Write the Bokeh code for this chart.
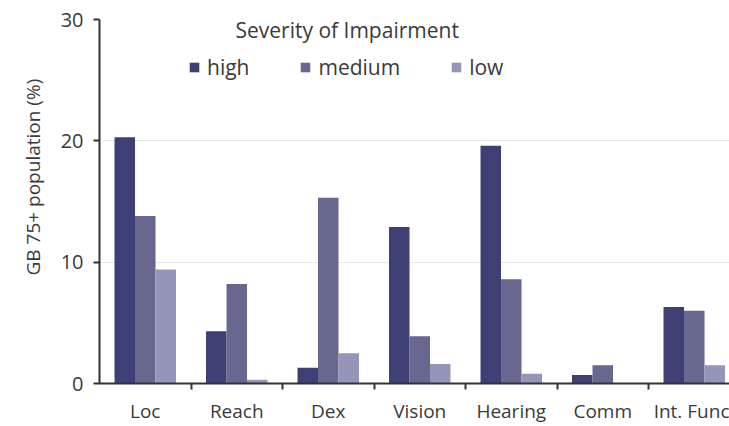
from bokeh.plotting import figure
from bokeh.models import Range1d, FixedTicker, Legend, LegendItem, Label, Title, ColumnDataSource
from bokeh.embed import file_html
from bokeh.resources import INLINE

categories = ["Loc", "Reach", "Dex", "Vision", "Hearing", "Comm", "Int. Func"]
high = [20.3, 4.3, 1.3, 12.9, 19.6, 0.7, 6.3]
medium = [13.8, 8.2, 15.3, 3.9, 8.6, 1.5, 6.0]
low = [9.4, 0.3, 2.5, 1.6, 0.8, 0.0, 1.5]
series_names = ["high", "medium", "low"]
colors = ["#3d3f75", "#67678f", "#9595ba"]
y_ticks = [0, 10, 20, 30]

FONT = "Open Sans"
TXT = "#3a3a3a"

p = figure(width=729, height=426, output_backend="svg", toolbar_location=None,
           x_range=Range1d(0, 6.885), y_range=Range1d(0, 30),
           min_border_left=99, min_border_right=0, min_border_top=19, min_border_bottom=43)
p.outline_line_color = None
p.background_fill_color = "white"
p.border_fill_color = "white"

centers = [i + 0.5 for i in range(len(categories))]
bw = 0.224
renderers = []
for k, (vals, name, col) in enumerate(zip([high, medium, low], series_names, colors)):
    src = ColumnDataSource(dict(x=[c + (k - 1) * bw for c in centers], top=vals))
    r = p.vbar(x="x", top="top", width=bw, bottom=0, source=src,
               fill_color=col, line_color=None)
    renderers.append(r)

# x axis
p.xaxis.ticker = FixedTicker(ticks=centers, minor_ticks=list(range(1, len(categories))))
p.xaxis.major_label_overrides = {c: lab for c, lab in zip(centers, categories)}
p.xaxis.major_tick_line_color = None
p.xaxis.minor_tick_line_color = "#333333"
p.xaxis.minor_tick_line_width = 2
p.xaxis.minor_tick_out = 6
p.xaxis.minor_tick_in = 0
p.xaxis.axis_line_color = "#333333"
p.xaxis.axis_line_width = 2
p.xaxis.major_label_text_font = FONT
p.xaxis.major_label_text_font_size = "19px"
p.xaxis.major_label_text_color = TXT
p.xaxis.major_label_standoff = 8
p.xgrid.grid_line_color = None

# y axis
p.yaxis.ticker = FixedTicker(ticks=y_ticks, minor_ticks=[])
p.yaxis.axis_line_color = "#333333"
p.yaxis.axis_line_width = 2
p.yaxis.major_tick_line_color = "#333333"
p.yaxis.major_tick_line_width = 2
p.yaxis.major_tick_out = 6
p.yaxis.major_tick_in = 0
p.yaxis.major_label_text_font = FONT
p.yaxis.major_label_text_font_size = "20px"
p.yaxis.major_label_text_color = TXT
p.yaxis.major_label_standoff = 10
p.ygrid.ticker = FixedTicker(ticks=y_ticks)
p.ygrid.grid_line_color = "#e8e8e8"
p.ygrid.grid_line_width = 1

# y-axis title, shifted up like the reference
ytitle = Title(text="GB 75+ population (%)", align="left", offset=108, standoff=24,
               text_font=FONT, text_font_size="19px", text_font_style="normal",
               text_color=TXT)
p.add_layout(ytitle, "left")

# legend
items = [LegendItem(label=n, renderers=[r]) for n, r in zip(series_names, renderers)]
legend = Legend(items=items, orientation="horizontal", location=(89, 302),
                glyph_width=12, glyph_height=12, label_standoff=7, spacing=50,
                padding=0, margin=0, border_line_color=None, background_fill_alpha=0,
                label_text_font=FONT, label_text_font_size="21px", label_text_color=TXT)
p.add_layout(legend, "center")

title = Label(x=1.486, y=29.1, text="Severity of Impairment", text_font=FONT,
              text_font_size="21px", text_color=TXT, text_baseline="alphabetic")
p.add_layout(title)

open("out.html", "w").write(file_html(p, INLINE))
